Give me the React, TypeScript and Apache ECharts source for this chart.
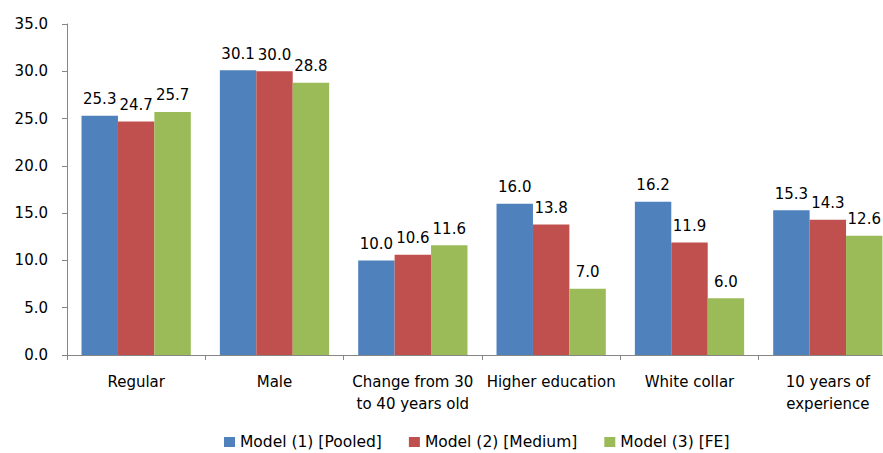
import React, { useEffect, useRef } from "react";
import * as echarts from "echarts";

const categories = [
  "Regular",
  "Male",
  "Change from 30\nto 40 years old",
  "Higher education",
  "White collar",
  "10 years of\nexperience",
];
const seriesNames = ["Model (1) [Pooled]", "Model (2) [Medium]", "Model (3) [FE]"];
const pooled = [25.3, 30.1, 10.0, 16.0, 16.2, 15.3];
const medium = [24.7, 30.0, 10.6, 13.8, 11.9, 14.3];
const fe = [25.7, 28.8, 11.6, 7.0, 6.0, 12.6];
const colors = ["#4F81BD", "#C0504D", "#9BBB59"];

const FONT = "DejaVu Sans";

export default function App() {
  const ref = useRef<HTMLDivElement>(null);
  useEffect(() => {
    document.body.style.margin = "0";
    if (!ref.current) return;
    const chart = echarts.init(ref.current, undefined, { renderer: "svg" });
    const data = [pooled, medium, fe];
    chart.setOption({
      animation: false,
      textStyle: { fontFamily: FONT },
      grid: {
        left: 67,
        top: 24,
        width: 830,
        height: 331,
        containLabel: false,
        outerBoundsMode: "none",
      },
      legend: {
        left: 224,
        top: 434,
        padding: 0,
        itemWidth: 11,
        itemHeight: 10,
        itemGap: 27,
        icon: "rect",
        textStyle: { fontFamily: FONT, fontSize: 15.5, color: "#000" },
        data: seriesNames,
      },
      xAxis: {
        type: "category",
        data: categories,
        axisLine: { lineStyle: { color: "#868686" } },
        axisTick: { show: true, length: 5, lineStyle: { color: "#868686" } },
        axisLabel: {
          fontFamily: FONT,
          fontSize: 15,
          color: "#000",
          margin: 16,
          lineHeight: 22,
          interval: 0,
        },
      },
      yAxis: {
        type: "value",
        min: 0,
        max: 35,
        interval: 5,
        splitLine: { show: false },
        axisLine: { show: true, lineStyle: { color: "#868686" } },
        axisTick: { show: true, length: 5, lineStyle: { color: "#868686" } },
        axisLabel: {
          fontFamily: FONT,
          fontSize: 15,
          color: "#000",
          margin: 19,
          formatter: (v: number) => v.toFixed(1),
        },
      },
      series: seriesNames.map((name, i) => ({
        name,
        type: "bar",
        data: data[i],
        barGap: "0%",
        barCategoryGap: "21%",
        itemStyle: { color: colors[i] },
        label: {
          show: true,
          position: "top",
          distance: 9,
          fontFamily: FONT,
          fontSize: 15,
          color: "#000",
          formatter: (p: any) => Number(p.value).toFixed(1),
        },
      })),
    });
    return () => chart.dispose();
  }, []);
  return <div ref={ref} style={{ width: 883, height: 453 }} />;
}
